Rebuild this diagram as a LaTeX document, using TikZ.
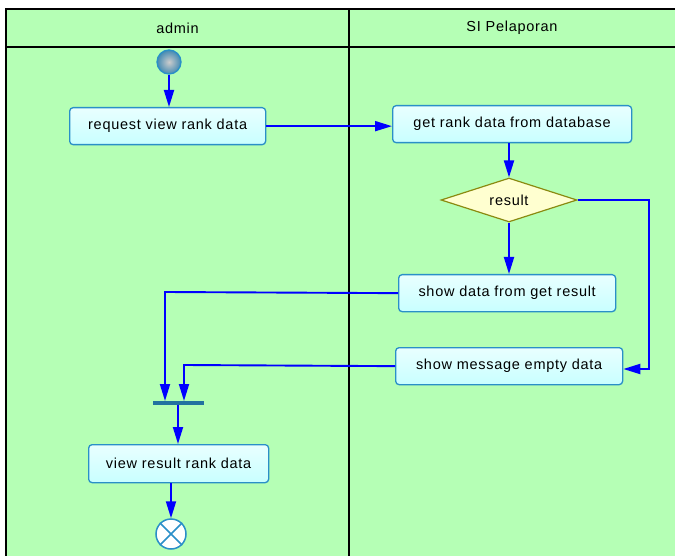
\documentclass[tikz,border=0pt]{standalone}
\usepackage{fontspec}
\setmainfont{Liberation Sans}[LetterSpace=5]
\usetikzlibrary{shapes.geometric,arrows.meta,shadings}
\definecolor{lanegreen}{HTML}{B5FFB5}
\definecolor{boxborder}{HTML}{2A8FC8}
\definecolor{boxfill}{HTML}{C8FFFF}
\definecolor{dfill}{HTML}{FFFFD0}
\definecolor{dborder}{HTML}{8A8A10}
\definecolor{flow}{HTML}{0000FF}
\tikzset{
  txt/.style={font=\fontsize{14.5}{16}\selectfont},
  act/.style={draw=boxborder, line width=1.3pt, rounded corners=3.5pt, top color=white!60!boxfill, bottom color=boxfill, anchor=north west, inner sep=0pt},
  dec/.style={diamond, draw=dborder, line width=1.2pt, fill=dfill, aspect=3.1, inner sep=0pt, minimum width=136pt, minimum height=44pt, txt},
  flw/.style={draw=flow, line width=1.9pt, -{Triangle[length=17pt,width=10pt]}}
}
\begin{document}
\begin{tikzpicture}[x=1pt,y=-1pt]
\useasboundingbox (0,0) rectangle (675,556);
\fill[white] (0,0) rectangle (675,556);
\fill[lanegreen] (6,9) rectangle (676,557);
\draw[black, line width=1.2pt] (6,557) -- (6,9) -- (676,9);
\draw[black, line width=1.2pt] (6,47) -- (676,47);
\draw[black, line width=1.2pt] (349,9) -- (349,557);
\node[txt] (laneA) at (177.5,28) {admin};
\node[txt] (laneB) at (512,28) {SI Pelaporan};

\node[circle, draw=boxborder, line width=1.3pt, inner color=gray!40, outer color=boxborder!70!gray, minimum size=24pt, inner sep=0pt] (start) at (169,62) {};
\node[act, minimum width=196pt, minimum height=37pt] (req) at (69,107) {};
\node[txt] (reqt) at (req.center) {request view rank data};
\node[act, minimum width=239pt, minimum height=37pt] (get) at (392,105) {};
\node[txt] (gett) at (get.center) {get rank data from database};
\node[dec] (res) at (509,200) {result};
\node[act, minimum width=217pt, minimum height=37pt] (show) at (398,274) {};
\node[txt] (showt) at (show.center) {show data from get result};
\node[act, minimum width=227pt, minimum height=37pt] (empty) at (395,347) {};
\node[txt] (emptyt) at (empty.center) {show message empty data};
\node[draw=none, fill=boxborder!80!black, minimum width=51pt, minimum height=4pt, inner sep=0pt] (bar) at (178.5,403) {};
\node[act, minimum width=180pt, minimum height=38pt] (view) at (88,444) {};
\node[txt] (viewt) at (view.center) {view result rank data};
\node[circle, draw=boxborder, line width=1.5pt, fill=white, minimum size=30pt, inner sep=0pt] (fin) at (171,534) {};
\draw[boxborder, line width=1.5pt] (fin.north west) -- (fin.south east) (fin.north east) -- (fin.south west);

\draw[flw] (start) -- (req.north -| start);
\draw[flw] (req.east) -- (get.west |- req.east);
\draw[flw] (get.south -| res) -- (res.north);
\draw[flw] (res.south) -- (show.north -| res);
\draw[flw] (res.east) -- (649,200) -- (649,369) -- (empty.east |- 0,369);
\draw[flw] (show.west) -- (165,292) -- (165,401);
\draw[flw] (empty.west) -- (184,365) -- (184,401);
\draw[flw] (178,405) -- (view.north -| 178,0);
\draw[flw] (view.south -| fin) -- (fin.north);
\end{tikzpicture}
\end{document}
